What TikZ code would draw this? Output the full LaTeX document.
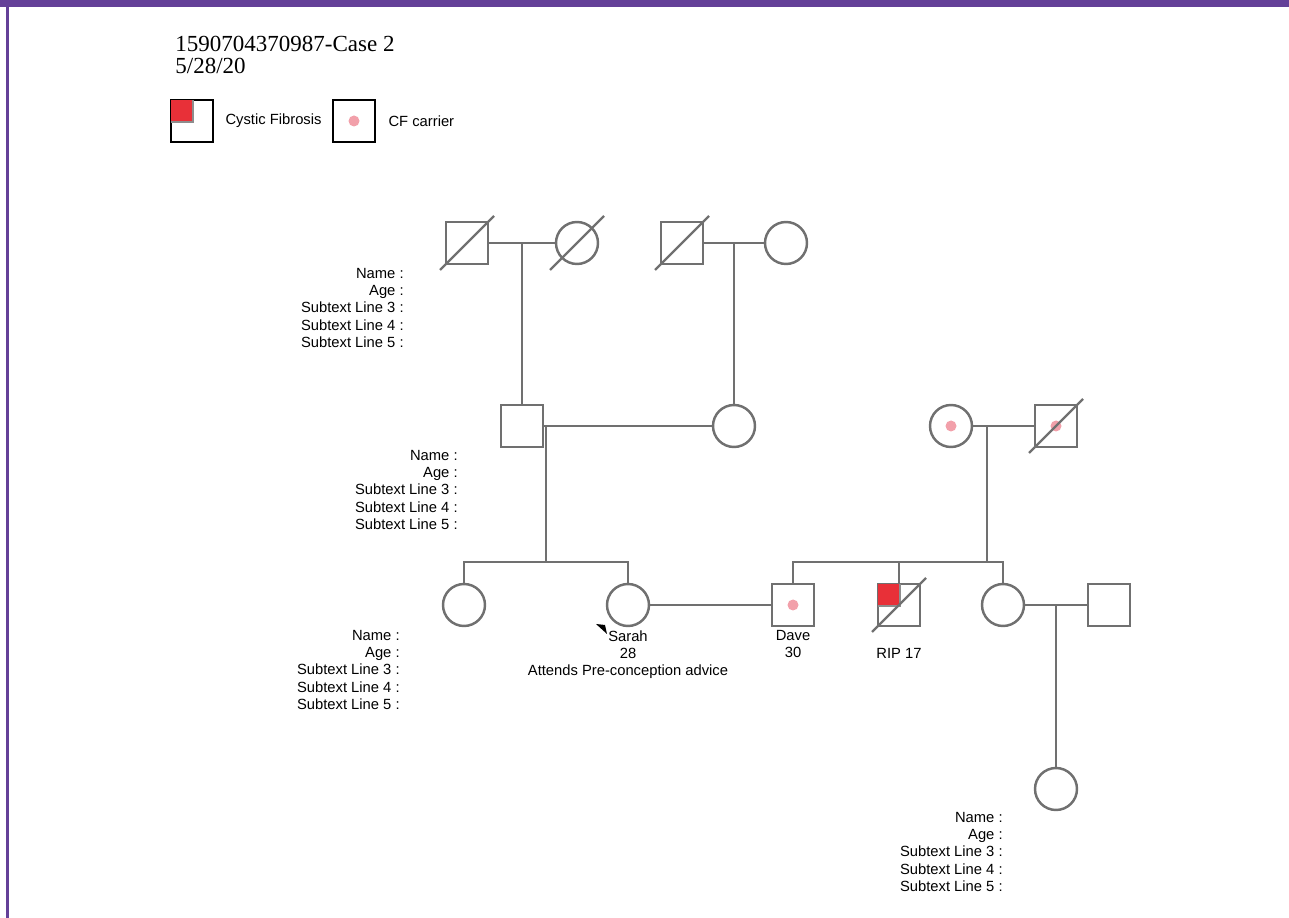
\documentclass[tikz,border=0pt]{standalone}
\usepackage{fontspec}
\setmainfont{Liberation Serif}
\setsansfont{Liberation Sans}
\usetikzlibrary{positioning,calc}
\definecolor{pedgray}{RGB}{112,112,112}
\definecolor{cfred}{RGB}{232,48,56}
\definecolor{cfpink}{RGB}{242,160,170}
\definecolor{framepurple}{RGB}{100,64,152}
\newcommand{\pedslash}[1]{\draw[slash] ($(#1.center)+(-27,27)$) -- ($(#1.center)+(27,-27)$);}
\newcommand{\cfquarter}[1]{%
  \fill[pedgray!80] ($(#1.north west)+(1,1)$) rectangle ($(#1.center)+(2,2)$);
  \fill[cfred] ($(#1.north west)+(1,1)$) rectangle ($(#1.center)+(0,0)$);}
\begin{document}
\begin{tikzpicture}[
        % pixel grid of the page
        x=0.02cm, y=-0.02cm,
        % Estilos
        male/.style={rectangle, draw=pedgray, line width=1.4pt, minimum size=0.84cm, inner sep=0},
        female/.style={circle, draw=pedgray, line width=1.4pt, minimum size=0.84cm, inner sep=0},
        legendbox/.style={rectangle, draw=black, line width=1.4pt, minimum size=0.84cm, inner sep=0},
        line/.style={draw=pedgray, line width=1.4pt},
        slash/.style={pedgray, line width=1.4pt},
        info/.style={font=\sffamily\fontsize{8.4}{9.8}\selectfont, align=right, anchor=north east, inner sep=0},
        under/.style={font=\sffamily\fontsize{8.4}{9.8}\selectfont, align=center, anchor=north, inner sep=0},
        legendtext/.style={font=\sffamily\fontsize{8.4}{9.8}\selectfont, inner sep=0}
    ]
        \useasboundingbox (0,0) rectangle (1289,918);

        % Moldura
        \fill[framepurple] (0,0) rectangle (1289,7);
        \fill[framepurple] (6,7) rectangle (8.5,918);

        % Titulo
        \node (title) [anchor=base west, inner sep=0, font=\fontsize{13.1}{15}\selectfont] at (175,52) {1590704370987-Case 2};
        \node (date) [anchor=base west, inner sep=0, font=\fontsize{13.1}{15}\selectfont] at (175,73.5) {5/28/20};

        % Legenda
        \node (lgcf) [legendbox] at (192,121) {};
        \cfquarter{lgcf}
        \node (lgcftext) [legendtext, right=0.22cm of lgcf] {Cystic Fibrosis};
        \node (lgcar) [legendbox] at (354,121) {};
        \fill[cfpink] (lgcar) circle (0.11cm);
        \node (lgcartext) [legendtext, right=0.24cm of lgcar] {CF carrier};

        % Geracao I
        \node (a1) [male] at (467,243) {};
        \node (a2) [female] at (577,243) {};
        \node (a3) [male] at (682,243) {};
        \node (a4) [female] at (786,243) {};

        % Geracao II
        \node (b1) [male] at (522,426) {};
        \node (b2) [female] at (734,426) {};
        \node (b3) [female] at (951,426) {};
        \node (b4) [male] at (1056,426) {};

        % Geracao III
        \node (c1) [female] at (464,605) {};
        \node (sarah) [female] at (628,605) {};
        \node (dave) [male] at (793,605) {};
        \node (c4) [male] at (899,605) {};
        \node (c5) [female] at (1003,605) {};
        \node (c6) [male] at (1109,605) {};

        % Geracao IV
        \node (d1) [female] at (1056,789) {};

        % Marcas
        \fill[cfpink] (b3) circle (0.11cm);
        \fill[cfpink] (b4) circle (0.11cm);
        \fill[cfpink] (dave) circle (0.11cm);
        \cfquarter{c4}
        \pedslash{a1}
        \pedslash{a2}
        \pedslash{a3}
        \pedslash{b4}
        \pedslash{c4}

        % --- Linhas de ligacao ---
        \draw [line] (a1) -- (a2) coordinate[midway] (m1);
        \draw [line] (m1) -- (m1 |- b1.north);
        \draw [line] (a3) -- (a4) coordinate[midway] (m2);
        \draw [line] (m2) -- (m2 |- b2.north);

        \draw [line] (b1) -- (b2);
        \coordinate (m3) at (546,426);
        \coordinate (s1) at (546,562);
        \draw [line] (m3) -- (s1);
        \draw [line] (c1.north) |- (s1) -| (sarah.north);

        \draw [line] (b3) -- (b4);
        \coordinate (m4) at (987,426);
        \coordinate (s2) at (987,562);
        \draw [line] (m4) -- (s2);
        \draw [line] (dave.north) |- (s2) -| (c5.north);
        \draw [line] (c4.north) -- (c4.north |- s2);

        \draw [line] (sarah) -- (dave);
        \draw [line] (c5) -- (c6) coordinate[midway] (m5);
        \draw [line] (m5) -- (m5 |- d1.north);

        % Textos
        \node (a1info) [info] at (404,268) {Name :\\Age :\\Subtext Line 3 :\\Subtext Line 4 :\\Subtext Line 5 :};
        \node (b1info) [info] at (458,450) {Name :\\Age :\\Subtext Line 3 :\\Subtext Line 4 :\\Subtext Line 5 :};
        \node (c1info) [info] at (400,630) {Name :\\Age :\\Subtext Line 3 :\\Subtext Line 4 :\\Subtext Line 5 :};
        \node (d1info) [info] at (1003,812) {Name :\\Age :\\Subtext Line 3 :\\Subtext Line 4 :\\Subtext Line 5 :};
        \node (sarahinfo) [under] at (628,630) {Sarah\\28\\Attends Pre-conception advice};
        \node (daveinfo) [under] at (793,630) {Dave\\30};
        \node (c4info) [under] at (899,648) {RIP 17};

        % Probando
        \fill (596,624) -- (605,625) -- (607,634) -- cycle;
    \end{tikzpicture}
\end{document}
